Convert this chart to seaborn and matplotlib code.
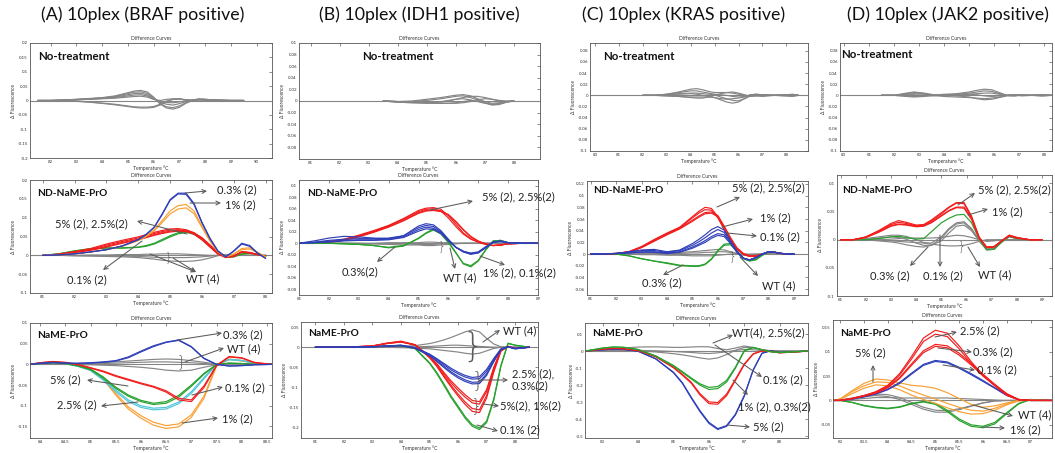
import matplotlib
matplotlib.use('Agg')
import matplotlib.pyplot as plt
from matplotlib.patches import FancyArrowPatch
from matplotlib.ticker import FuncFormatter
import seaborn as sns

# ---------------- data ----------------
# (A) BRAF, no treatment
A1_T = [81.5, 82, 82.5, 83, 83.5, 84, 84.5, 85, 85.25, 85.5, 85.75, 86, 86.25, 86.5, 86.75, 87, 87.25, 87.5, 87.75, 88, 88.5, 89, 89.5]
A1_nt1 = [0, 0, 0.002, 0.004, 0.007, 0.010, 0.016, 0.027, 0.033, 0.035, 0.030, 0.012, -0.012, -0.026, -0.030, -0.024, -0.010, 0.000, 0.004, 0.004, 0.001, 0, 0]
A1_nt2 = [0, 0, 0.002, 0.004, 0.006, 0.009, 0.014, 0.024, 0.029, 0.030, 0.025, 0.010, -0.010, -0.022, -0.025, -0.019, -0.008, 0.000, 0.004, 0.003, 0.001, 0, 0]
A1_nt3 = [0, 0, 0.001, 0.003, 0.005, 0.008, 0.012, 0.020, 0.024, 0.025, 0.020, 0.007, -0.006, -0.013, -0.016, -0.011, -0.004, 0.001, 0.005, 0.004, 0.001, 0, 0]
A1_nt4 = [0, 0, 0.001, 0.003, 0.005, 0.007, 0.010, 0.016, 0.019, 0.020, 0.016, 0.005, -0.003, -0.007, -0.008, -0.005, -0.001, 0.002, 0.005, 0.004, 0.001, 0, 0]
A1_nt5 = [0, 0, 0.001, 0.002, 0.004, 0.006, 0.008, 0.012, 0.014, 0.015, 0.012, 0.004, 0.000, 0.004, 0.006, 0.005, 0.002, 0.001, 0.003, 0.002, 0.001, 0, 0]
A1_nt6 = [0, 0, -0.001, -0.003, -0.006, -0.010, -0.015, -0.021, -0.024, -0.026, -0.026, -0.024, -0.016, -0.004, 0.004, 0.006, 0.003, 0.000, 0.002, 0.001, 0, 0, 0]
A1_nt7 = [0, 0, -0.001, -0.002, -0.005, -0.009, -0.013, -0.019, -0.022, -0.023, -0.023, -0.021, -0.013, -0.002, 0.004, 0.005, 0.002, 0.000, 0.002, 0.001, 0, 0, 0]

# (A) BRAF, ND-NaME-PrO
A2_T = [81, 81.5, 82, 82.5, 83, 83.5, 84, 84.25, 84.5, 84.75, 85, 85.25, 85.5, 85.75, 86, 86.25, 86.5, 86.75, 87, 87.25, 87.5, 87.75, 88]
A2_b1 = [0, 0.001, 0.004, 0.009, 0.015, 0.025, 0.042, 0.056, 0.075, 0.110, 0.148, 0.165, 0.165, 0.138, 0.088, 0.046, 0.012, -0.004, 0.012, 0.032, 0.026, 0.006, -0.008]
A2_b2 = [0, 0.001, 0.004, 0.009, 0.015, 0.025, 0.041, 0.055, 0.074, 0.108, 0.146, 0.163, 0.162, 0.135, 0.086, 0.044, 0.011, -0.004, 0.011, 0.030, 0.024, 0.005, -0.008]
A2_o1 = [0, 0.001, 0.004, 0.009, 0.015, 0.025, 0.040, 0.052, 0.068, 0.092, 0.118, 0.132, 0.135, 0.118, 0.078, 0.040, 0.010, -0.004, 0.004, 0.018, 0.020, 0.008, -0.004]
A2_o2 = [0, 0.001, 0.004, 0.009, 0.015, 0.024, 0.039, 0.050, 0.065, 0.087, 0.110, 0.123, 0.126, 0.111, 0.074, 0.038, 0.009, -0.004, 0.003, 0.015, 0.017, 0.007, -0.004]
A2_r1 = [0, 0.003, 0.010, 0.018, 0.030, 0.040, 0.049, 0.055, 0.061, 0.066, 0.070, 0.071, 0.068, 0.060, 0.045, 0.026, 0.006, -0.006, -0.002, 0.009, 0.007, 0.002, -0.002]
A2_r2 = [0, 0.003, 0.009, 0.016, 0.027, 0.037, 0.046, 0.052, 0.058, 0.063, 0.067, 0.068, 0.065, 0.056, 0.041, 0.022, 0.003, -0.006, -0.003, 0.008, 0.006, 0.002, -0.002]
A2_r3 = [0, 0.002, 0.008, 0.014, 0.024, 0.034, 0.043, 0.049, 0.055, 0.060, 0.064, 0.066, 0.066, 0.060, 0.047, 0.028, 0.008, -0.005, -0.002, 0.010, 0.008, 0.002, -0.002]
A2_r4 = [0, 0.002, 0.007, 0.013, 0.022, 0.032, 0.041, 0.047, 0.053, 0.058, 0.062, 0.064, 0.063, 0.057, 0.044, 0.025, 0.006, -0.005, -0.002, 0.009, 0.007, 0.002, -0.002]
A2_g1 = [0, 0.004, 0.012, 0.018, 0.020, 0.020, 0.022, 0.026, 0.032, 0.042, 0.052, 0.060, 0.064, 0.058, 0.044, 0.025, 0.006, -0.004, -0.004, 0.004, 0.006, 0.002, -0.002]
A2_g2 = [0, 0.004, 0.011, 0.017, 0.019, 0.019, 0.021, 0.024, 0.030, 0.039, 0.049, 0.057, 0.061, 0.056, 0.042, 0.023, 0.005, -0.004, -0.004, 0.003, 0.005, 0.002, -0.002]
A2_w1 = [0, 0, -0.001, -0.002, -0.003, -0.004, -0.006, -0.008, -0.010, -0.013, -0.015, -0.016, -0.016, -0.015, -0.012, -0.007, -0.001, 0.002, 0.001, 0, 0, 0, 0]
A2_w2 = [0, 0, -0.001, -0.001, -0.002, -0.002, -0.003, -0.004, -0.005, -0.006, -0.006, -0.006, -0.006, -0.005, -0.004, -0.002, 0, 0.001, 0.001, 0, 0, 0, 0]
A2_w3 = [0, 0, 0, 0.001, 0.001, 0.002, 0.002, 0.003, 0.003, 0.004, 0.004, 0.004, 0.003, 0.002, 0.001, 0, 0, 0, 0, 0, 0, 0, 0]

# (A) BRAF, NaME-PrO
A3_T = [83.8, 84, 84.25, 84.5, 84.75, 85, 85.25, 85.5, 85.75, 86, 86.25, 86.5, 86.75, 87, 87.25, 87.5, 87.75, 88, 88.25, 88.6]
A3_b1 = [0, 0.003, 0.005, 0.003, 0.003, 0.004, 0.006, 0.009, 0.018, 0.032, 0.045, 0.054, 0.059, 0.043, 0.015, 0.000, -0.004, -0.003, -0.001, 0]
A3_b2 = [0, 0.002, 0.004, 0.003, 0.002, 0.003, 0.005, 0.008, 0.016, 0.030, 0.043, 0.053, 0.058, 0.042, 0.014, 0.000, -0.004, -0.003, -0.001, 0]
A3_r1 = [0, 0.004, 0.007, 0.005, 0.000, -0.008, -0.016, -0.027, -0.036, -0.045, -0.053, -0.064, -0.082, -0.086, -0.052, -0.002, 0.019, 0.016, 0.005, 0]
A3_r2 = [0, 0.004, 0.006, 0.004, -0.001, -0.009, -0.018, -0.029, -0.038, -0.047, -0.055, -0.067, -0.086, -0.090, -0.056, -0.004, 0.018, 0.015, 0.004, 0]
A3_g1 = [0, 0.002, 0.004, 0.002, -0.003, -0.011, -0.030, -0.055, -0.074, -0.087, -0.094, -0.090, -0.075, -0.050, -0.022, 0.000, 0.003, 0.002, 0, 0]
A3_g2 = [0, 0.002, 0.004, 0.002, -0.004, -0.013, -0.033, -0.058, -0.077, -0.090, -0.097, -0.094, -0.079, -0.053, -0.024, -0.001, 0.003, 0.002, 0, 0]
A3_c1 = [0, 0.002, 0.004, 0.002, -0.004, -0.013, -0.035, -0.062, -0.086, -0.100, -0.106, -0.104, -0.091, -0.066, -0.032, 0.000, 0.012, 0.010, 0.003, 0]
A3_c2 = [0, 0.002, 0.004, 0.002, -0.005, -0.015, -0.038, -0.066, -0.090, -0.104, -0.110, -0.108, -0.095, -0.070, -0.035, -0.001, 0.011, 0.009, 0.003, 0]
A3_o1 = [0, 0.003, 0.006, 0.004, -0.002, -0.011, -0.033, -0.070, -0.103, -0.124, -0.140, -0.148, -0.144, -0.122, -0.077, -0.002, 0.013, 0.009, 0.003, 0]
A3_o2 = [0, 0.003, 0.006, 0.004, -0.003, -0.013, -0.036, -0.074, -0.108, -0.130, -0.147, -0.155, -0.151, -0.128, -0.082, -0.004, 0.012, 0.008, 0.003, 0]
A3_w1 = [0, 0, 0, 0, 0.001, 0.002, 0.004, 0.006, 0.008, 0.010, 0.012, 0.013, 0.012, 0.009, 0.005, 0.001, 0, 0, 0, 0]
A3_w2 = [0, 0, 0, 0, 0.001, 0.001, 0.002, 0.003, 0.004, 0.005, 0.006, 0.006, 0.005, 0.004, 0.002, 0, 0, 0, 0, 0]
A3_w3 = [0, 0, 0, 0, -0.001, -0.001, -0.002, -0.003, -0.005, -0.007, -0.010, -0.014, -0.016, -0.014, -0.007, -0.001, 0.001, 0, 0, 0]

# (B) IDH1, no treatment
B1_T = [83.5, 84, 84.5, 85, 85.5, 85.75, 86, 86.25, 86.5, 86.75, 87, 87.25, 87.5, 87.75, 88]
B1_n1 = [0, -0.001, 0.000, 0.003, 0.006, 0.008, 0.010, 0.011, 0.009, 0.004, -0.001, -0.004, -0.003, -0.001, 0]
B1_n2 = [0, -0.001, -0.001, 0.001, 0.004, 0.006, 0.008, 0.009, 0.006, 0.002, -0.003, -0.006, -0.005, -0.002, 0]
B1_n3 = [0, -0.002, -0.003, -0.003, -0.002, 0.000, 0.003, 0.006, 0.008, 0.008, 0.006, 0.003, 0.000, -0.001, 0]
B1_n4 = [0, -0.002, -0.003, -0.004, -0.004, -0.004, -0.004, -0.003, -0.001, 0.002, 0.004, 0.003, 0.001, 0, 0]
B1_n5 = [0, -0.001, -0.002, -0.003, -0.004, -0.004, -0.003, -0.001, 0.001, 0.000, -0.003, -0.007, -0.006, -0.002, 0]
B1_n6 = [0, -0.001, -0.002, -0.002, -0.001, 0.001, 0.003, 0.004, 0.002, -0.001, -0.004, -0.006, -0.004, -0.001, 0]

# (B) IDH1, ND-NaME-PrO
B2_T = [81, 81.5, 82, 82.5, 83, 83.5, 84, 84.5, 85, 85.25, 85.5, 85.75, 86, 86.25, 86.5, 86.75, 87, 87.25, 87.5, 87.75, 88, 88.5, 89]
B2_r1 = [0, 0.001, 0.003, 0.007, 0.014, 0.022, 0.031, 0.043, 0.057, 0.061, 0.062, 0.059, 0.048, 0.033, 0.018, 0.008, 0.002, -0.002, -0.004, -0.003, -0.001, 0, 0]
B2_r2 = [0, 0.001, 0.003, 0.006, 0.013, 0.021, 0.030, 0.042, 0.055, 0.059, 0.060, 0.056, 0.044, 0.029, 0.016, 0.007, 0.002, -0.002, -0.004, -0.003, -0.001, 0, 0]
B2_r3 = [0, 0.001, 0.002, 0.006, 0.012, 0.020, 0.029, 0.040, 0.053, 0.057, 0.058, 0.056, 0.050, 0.038, 0.024, 0.012, 0.004, -0.001, -0.004, -0.003, -0.001, 0, 0]
B2_r4 = [0, 0.001, 0.002, 0.005, 0.011, 0.019, 0.028, 0.039, 0.052, 0.056, 0.057, 0.055, 0.049, 0.037, 0.023, 0.011, 0.003, -0.001, -0.004, -0.003, -0.001, 0, 0]
B2_b1 = [0, 0.004, 0.009, 0.012, 0.011, 0.009, 0.008, 0.013, 0.030, 0.034, 0.032, 0.022, 0.007, -0.007, -0.015, -0.019, -0.016, -0.007, 0.002, 0.004, 0.001, 0, 0]
B2_b2 = [0, 0.002, 0.005, 0.007, 0.008, 0.008, 0.009, 0.013, 0.027, 0.031, 0.029, 0.020, 0.006, -0.007, -0.015, -0.019, -0.017, -0.008, 0.002, 0.004, 0.001, 0, 0]
B2_b3 = [0, 0.001, 0.003, 0.005, 0.006, 0.006, 0.007, 0.011, 0.024, 0.028, 0.026, 0.018, 0.005, -0.007, -0.014, -0.018, -0.016, -0.007, 0.002, 0.003, 0.001, 0, 0]
B2_b4 = [0, 0.001, 0.002, 0.004, 0.005, 0.005, 0.006, 0.010, 0.021, 0.025, 0.024, 0.017, 0.004, -0.007, -0.014, -0.017, -0.015, -0.006, 0.002, 0.003, 0.001, 0, 0]
B2_g1 = [0, 0, 0, -0.001, -0.002, -0.004, -0.008, -0.005, 0.009, 0.018, 0.025, 0.018, 0.003, -0.016, -0.036, -0.041, -0.031, -0.012, 0.004, 0.005, 0.001, 0, 0]
B2_g2 = [0, 0, 0, -0.001, -0.002, -0.004, -0.007, -0.004, 0.008, 0.017, 0.023, 0.016, 0.001, -0.017, -0.035, -0.039, -0.030, -0.011, 0.004, 0.005, 0.001, 0, 0]
B2_w1 = [0, 0, 0, 0, -0.001, -0.001, -0.002, -0.003, -0.003, -0.004, -0.004, -0.003, -0.002, -0.001, 0, 0, 0, 0, 0, 0, 0, 0, 0]
B2_w2 = [0, 0, 0, 0, 0, -0.001, -0.001, -0.001, -0.002, -0.002, -0.002, -0.001, -0.001, 0, 0, 0, 0, 0, 0, 0, 0, 0, 0]
B2_w3 = [0, 0, 0, 0, 0, 0, 0.001, 0.001, 0.001, 0.002, 0.002, 0.001, 0.001, 0, 0, 0, 0, 0, 0, 0, 0, 0, 0]

# (B) IDH1, NaME-PrO
B3_T = [81, 82, 83, 83.5, 84, 84.5, 85, 85.25, 85.5, 85.75, 86, 86.25, 86.5, 86.75, 87, 87.25, 87.5, 87.75, 88, 88.5]
B3_r1 = [0, 0, 0.003, 0.009, 0.013, 0.006, -0.022, -0.040, -0.062, -0.083, -0.101, -0.118, -0.132, -0.135, -0.105, -0.050, -0.006, 0.002, -0.003, 0]
B3_r2 = [0, 0, 0.003, 0.009, 0.013, 0.005, -0.024, -0.043, -0.066, -0.088, -0.107, -0.124, -0.138, -0.141, -0.110, -0.054, -0.008, 0.002, -0.003, 0]
B3_r3 = [0, 0, 0.003, 0.010, 0.014, 0.006, -0.025, -0.045, -0.070, -0.094, -0.116, -0.136, -0.152, -0.155, -0.120, -0.058, -0.009, 0.002, -0.003, 0]
B3_r4 = [0, 0, 0.003, 0.010, 0.015, 0.006, -0.026, -0.047, -0.073, -0.098, -0.121, -0.142, -0.159, -0.162, -0.126, -0.062, -0.010, 0.002, -0.003, 0]
B3_b1 = [0, 0, 0.001, 0.003, 0.005, -0.001, -0.017, -0.028, -0.040, -0.052, -0.062, -0.070, -0.075, -0.073, -0.055, -0.028, -0.004, 0.001, -0.003, 0]
B3_b2 = [0, 0, 0.001, 0.003, 0.005, -0.002, -0.018, -0.030, -0.043, -0.056, -0.066, -0.074, -0.079, -0.078, -0.060, -0.031, -0.005, 0.001, -0.003, 0]
B3_b3 = [0, 0, 0.001, 0.003, 0.004, -0.002, -0.020, -0.033, -0.047, -0.061, -0.072, -0.081, -0.087, -0.086, -0.066, -0.034, -0.006, 0.001, -0.004, 0]
B3_b4 = [0, 0, 0.001, 0.002, 0.004, -0.003, -0.021, -0.035, -0.050, -0.064, -0.076, -0.085, -0.091, -0.090, -0.070, -0.036, -0.006, 0.001, -0.004, 0]
B3_g1 = [0, 0, 0.001, 0.003, 0.004, -0.003, -0.038, -0.062, -0.090, -0.120, -0.146, -0.172, -0.192, -0.200, -0.183, -0.128, -0.045, 0.010, 0.005, 0]
B3_g2 = [0, 0, 0.001, 0.003, 0.004, -0.004, -0.040, -0.065, -0.094, -0.124, -0.150, -0.176, -0.196, -0.204, -0.187, -0.132, -0.048, 0.009, 0.005, 0]
B3_w1 = [0, 0, 0, 0, 0.002, 0.004, 0.009, 0.013, 0.018, 0.024, 0.031, 0.038, 0.043, 0.038, 0.022, 0.008, 0.001, 0, 0, 0]
B3_w2 = [0, 0, 0, 0, -0.001, -0.002, -0.004, -0.006, -0.008, -0.010, -0.012, -0.015, -0.017, -0.015, -0.009, -0.003, 0, 0, 0, 0]
B3_w3 = [0, 0, 0, 0, 0, 0.001, 0.002, 0.003, 0.004, 0.005, 0.005, 0.004, 0.003, 0.002, 0.001, 0, 0, 0, 0, 0]

# (C) KRAS, no treatment
C1_T = [82, 82.5, 83, 83.5, 84, 84.25, 84.5, 84.75, 85, 85.25, 85.5, 85.75, 86, 86.25, 86.5, 86.75, 87, 87.5, 88, 88.25, 88.5]
C1_n1 = [0, 0, 0.002, 0.006, 0.011, 0.012, 0.010, 0.007, 0.005, 0.005, 0.005, 0.004, 0.002, 0, -0.001, 0.001, 0.001, 0, 0.001, 0.001, 0]
C1_n2 = [0, 0, 0.002, 0.005, 0.008, 0.008, 0.006, 0.004, 0.002, 0.001, 0.000, -0.002, -0.003, -0.002, 0.001, 0.002, 0, 0, -0.001, -0.001, 0]
C1_n3 = [0, 0, 0.001, 0.003, 0.004, 0.004, 0.003, 0.002, 0.001, -0.003, -0.006, -0.009, -0.010, -0.006, -0.001, -0.001, -0.002, 0, 0.001, 0.002, 0]
C1_n4 = [0, 0, -0.001, -0.002, -0.003, -0.003, -0.003, -0.003, -0.004, -0.008, -0.012, -0.014, -0.012, -0.006, 0.000, 0.001, 0.001, 0, -0.001, -0.002, 0]
C1_n5 = [0, 0, -0.001, -0.002, -0.004, -0.005, -0.005, -0.003, 0.000, 0.003, 0.005, 0.006, 0.004, 0.001, -0.002, -0.001, 0, 0, 0.001, 0.001, 0]
C1_n6 = [0, 0, 0.001, 0.002, 0.003, 0.002, 0.000, -0.002, -0.004, -0.006, -0.007, -0.006, -0.005, -0.003, 0.001, 0.002, 0.001, 0, 0, 0.001, 0]

# (C) KRAS, ND-NaME-PrO
C2_T = [81, 82, 82.5, 83, 83.5, 84, 84.5, 85, 85.25, 85.5, 85.75, 86, 86.25, 86.5, 86.75, 87, 87.25, 87.5, 87.75, 88, 88.25, 88.5, 89]
C2_r1 = [0, 0.001, 0.004, 0.013, 0.025, 0.036, 0.046, 0.064, 0.073, 0.080, 0.078, 0.064, 0.043, 0.024, 0.009, 0.000, -0.004, -0.004, 0.000, 0.004, 0.003, 0.001, 0]
C2_r2 = [0, 0.001, 0.004, 0.012, 0.024, 0.035, 0.045, 0.062, 0.070, 0.076, 0.075, 0.062, 0.042, 0.023, 0.008, 0.000, -0.004, -0.004, 0.000, 0.004, 0.003, 0.001, 0]
C2_r3 = [0, 0.001, 0.004, 0.012, 0.023, 0.034, 0.044, 0.058, 0.065, 0.071, 0.072, 0.066, 0.048, 0.028, 0.011, 0.001, -0.003, -0.003, 0.000, 0.004, 0.003, 0.001, 0]
C2_r4 = [0, 0.001, 0.003, 0.011, 0.022, 0.033, 0.043, 0.056, 0.063, 0.069, 0.070, 0.064, 0.046, 0.027, 0.010, 0.001, -0.003, -0.003, 0.000, 0.004, 0.003, 0.001, 0]
C2_b1 = [0, 0.001, 0.004, 0.007, 0.008, 0.004, 0.007, 0.018, 0.025, 0.033, 0.042, 0.047, 0.041, 0.023, 0.005, -0.007, -0.010, -0.006, 0.000, 0.004, 0.003, 0.001, 0]
C2_b2 = [0, 0.001, 0.003, 0.006, 0.006, 0.003, 0.006, 0.015, 0.021, 0.028, 0.036, 0.042, 0.037, 0.021, 0.004, -0.007, -0.010, -0.006, 0.000, 0.004, 0.003, 0.001, 0]
C2_b3 = [0, 0.001, 0.002, 0.004, 0.004, 0.002, 0.004, 0.012, 0.017, 0.023, 0.030, 0.035, 0.033, 0.020, 0.004, -0.007, -0.010, -0.006, 0.000, 0.004, 0.003, 0.001, 0]
C2_b4 = [0, 0.001, 0.002, 0.003, 0.003, 0.001, 0.003, 0.010, 0.015, 0.020, 0.027, 0.032, 0.030, 0.018, 0.003, -0.007, -0.010, -0.006, 0.000, 0.004, 0.003, 0.001, 0]
C2_g1 = [0, 0, -0.003, -0.008, -0.012, -0.015, -0.019, -0.020, -0.020, -0.017, -0.008, 0.006, 0.017, 0.018, 0.006, -0.007, -0.011, -0.009, -0.002, 0.004, 0.003, 0.001, 0]
C2_g2 = [0, 0, -0.003, -0.008, -0.012, -0.016, -0.020, -0.021, -0.021, -0.018, -0.009, 0.005, 0.015, 0.016, 0.005, -0.008, -0.012, -0.010, -0.002, 0.004, 0.003, 0.001, 0]
C2_w1 = [0, 0, 0, 0.001, 0.001, 0.002, 0.003, 0.004, 0.005, 0.006, 0.007, 0.008, 0.007, 0.004, 0.001, -0.002, -0.003, -0.002, 0, 0.001, 0, 0, 0]
C2_w2 = [0, 0, 0, -0.001, -0.001, -0.002, -0.002, -0.003, -0.003, -0.003, -0.003, -0.002, -0.001, 0, 0, -0.001, -0.001, 0, 0, 0, 0, 0, 0]
C2_w3 = [0, 0, 0, 0, 0.001, 0.001, 0.001, 0.002, 0.002, 0.003, 0.003, 0.004, 0.004, 0.003, 0.001, 0, 0, 0, 0, 0, 0, 0, 0]

# (C) KRAS, NaME-PrO
C3_T = [82.5, 83, 83.3, 83.6, 84, 84.5, 85, 85.25, 85.5, 85.75, 86, 86.25, 86.5, 86.75, 87, 87.25, 87.5, 87.75, 88, 88.5, 88.8]
C3_g1 = [0, 0.018, 0.024, 0.022, 0.010, -0.028, -0.084, -0.120, -0.157, -0.192, -0.213, -0.208, -0.172, -0.094, 0.004, 0.022, 0.008, -0.004, -0.008, -0.003, 0]
C3_g2 = [0, 0.018, 0.024, 0.022, 0.009, -0.030, -0.088, -0.125, -0.163, -0.200, -0.225, -0.220, -0.182, -0.100, 0.000, 0.020, 0.008, -0.004, -0.008, -0.003, 0]
C3_r1 = [0, 0.012, 0.016, 0.014, 0.004, -0.032, -0.094, -0.136, -0.182, -0.250, -0.298, -0.302, -0.252, -0.165, -0.075, -0.016, 0.002, -0.002, -0.010, -0.004, 0]
C3_r2 = [0, 0.012, 0.016, 0.014, 0.003, -0.034, -0.098, -0.141, -0.188, -0.258, -0.308, -0.312, -0.262, -0.172, -0.080, -0.018, 0.001, -0.002, -0.010, -0.004, 0]
C3_b1 = [0, 0.008, 0.012, 0.010, 0.000, -0.045, -0.124, -0.185, -0.270, -0.350, -0.418, -0.455, -0.437, -0.370, -0.260, -0.110, -0.012, 0.002, -0.008, -0.003, 0]
C3_b2 = [0, 0.008, 0.012, 0.010, -0.001, -0.046, -0.127, -0.189, -0.275, -0.356, -0.424, -0.460, -0.442, -0.375, -0.265, -0.113, -0.013, 0.002, -0.008, -0.003, 0]
C3_w1 = [0, 0.004, 0.010, 0.018, 0.024, 0.025, 0.022, 0.022, 0.024, 0.026, 0.025, 0.015, 0.008, 0.018, 0.030, 0.022, 0.008, 0.002, 0, 0, 0]
C3_w2 = [0, 0.002, 0.004, 0.004, 0.002, -0.005, -0.015, -0.022, -0.030, -0.040, -0.047, -0.040, -0.020, 0.005, 0.022, 0.020, 0.008, 0.002, 0, 0, 0]
C3_w3 = [0, 0.002, 0.003, 0.004, 0.004, 0.002, -0.002, -0.005, -0.008, -0.012, -0.014, -0.010, -0.004, 0.004, 0.010, 0.008, 0.003, 0.001, 0, 0, 0]

# (D) JAK2, no treatment
D1_T = [81.5, 82, 82.5, 82.8, 83.2, 83.6, 84, 84.5, 85, 85.3, 85.6, 85.9, 86.2, 86.5, 86.8, 87.1, 87.5, 87.9, 88.3]
D1_n1 = [0, 0, 0.003, 0.005, 0.003, 0.000, 0.001, 0.003, 0.006, 0.009, 0.011, 0.010, 0.005, 0.000, 0.001, -0.001, 0, 0.001, 0]
D1_n2 = [0, 0, 0.002, 0.003, 0.002, 0.000, 0.002, 0.002, 0.004, 0.006, 0.008, 0.007, 0.003, 0.000, -0.001, 0.001, 0, -0.001, 0]
D1_n3 = [0, 0, 0.001, 0.001, 0.000, -0.001, 0.000, 0.001, 0.002, 0.003, 0.004, 0.004, 0.002, 0.000, 0.001, 0.000, 0, 0.001, 0]
D1_n4 = [0, 0, -0.002, -0.003, -0.002, 0.000, -0.002, -0.003, -0.004, -0.005, -0.006, -0.005, -0.003, 0.000, 0.000, 0.001, 0, 0, 0]
D1_n5 = [0, 0, -0.001, -0.002, -0.001, 0.000, 0.001, -0.001, -0.003, -0.006, -0.008, -0.007, -0.004, -0.001, -0.001, 0.000, 0, -0.001, 0]
D1_n6 = [0, 0, 0.004, 0.006, 0.004, 0.001, -0.001, 0.000, 0.002, 0.001, -0.001, -0.002, -0.001, 0.000, 0.001, 0.000, 0, 0.001, 0]

# (D) JAK2, ND-NaME-PrO
D2_T = [81, 81.5, 82, 82.5, 83, 83.3, 83.6, 84, 84.3, 84.6, 85, 85.3, 85.6, 85.9, 86.2, 86.5, 86.8, 87.1, 87.4, 87.7, 88, 88.5, 89]
D2_r1 = [0, 0, 0.005, 0.016, 0.029, 0.034, 0.031, 0.026, 0.027, 0.035, 0.048, 0.058, 0.066, 0.066, 0.042, 0.005, -0.014, -0.013, -0.002, 0.008, 0.004, 0, 0]
D2_r2 = [0, 0, 0.005, 0.015, 0.027, 0.031, 0.029, 0.025, 0.026, 0.033, 0.046, 0.057, 0.065, 0.064, 0.040, 0.004, -0.014, -0.013, -0.002, 0.008, 0.004, 0, 0]
D2_r3 = [0, 0, 0.004, 0.014, 0.025, 0.028, 0.027, 0.024, 0.025, 0.031, 0.043, 0.052, 0.058, 0.058, 0.038, 0.004, -0.013, -0.012, -0.002, 0.007, 0.003, 0, 0]
D2_r4 = [0, 0, 0.004, 0.013, 0.024, 0.027, 0.026, 0.023, 0.024, 0.030, 0.042, 0.051, 0.057, 0.056, 0.036, 0.003, -0.013, -0.012, -0.002, 0.007, 0.003, 0, 0]
D2_g1 = [0, 0, 0, 0.002, 0.005, 0.006, 0.004, 0.001, 0.002, 0.014, 0.030, 0.038, 0.044, 0.045, 0.030, 0.002, -0.018, -0.017, -0.004, 0.006, 0.002, 0, 0]
D2_w1 = [0, 0, 0.002, 0.005, 0.008, 0.008, 0.006, 0.000, -0.005, -0.006, 0.005, 0.020, 0.030, 0.032, 0.020, 0.000, -0.016, -0.016, -0.004, 0.006, 0.002, 0, 0]
D2_w2 = [0, 0, 0.001, 0.003, 0.005, 0.004, 0.001, -0.006, -0.010, -0.010, 0.002, 0.018, 0.028, 0.030, 0.018, -0.002, -0.018, -0.017, -0.004, 0.006, 0.002, 0, 0]
D2_w3 = [0, 0, 0.000, -0.002, -0.004, -0.006, -0.009, -0.012, -0.013, -0.010, -0.002, 0.012, 0.024, 0.026, 0.016, -0.002, -0.017, -0.016, -0.004, 0.005, 0.002, 0, 0]
D2_w4 = [0, 0, 0, -0.001, -0.002, -0.003, -0.004, -0.005, -0.006, -0.008, -0.010, -0.011, -0.011, -0.010, -0.007, -0.003, 0, 0, 0, 0, 0, 0, 0]
D2_w5 = [0, 0, 0, 0, 0.001, 0.002, 0.003, 0.003, 0.003, 0.003, 0.004, 0.006, 0.008, 0.007, 0.004, 0.000, -0.003, -0.002, 0, 0, 0, 0, 0]

# (D) JAK2, NaME-PrO
D3_T = [82.85, 83, 83.25, 83.5, 83.75, 84, 84.25, 84.5, 84.75, 85, 85.25, 85.5, 85.75, 86, 86.25, 86.5, 86.75, 87, 87.25, 87.45]
D3_r1 = [0, 0, 0.004, 0.010, 0.018, 0.031, 0.055, 0.090, 0.128, 0.144, 0.138, 0.112, 0.080, 0.052, 0.031, 0.011, 0.001, 0, 0, 0]
D3_r2 = [0, 0, 0.004, 0.010, 0.017, 0.029, 0.052, 0.085, 0.121, 0.136, 0.131, 0.106, 0.076, 0.050, 0.030, 0.011, 0.001, 0, 0, 0]
D3_r3 = [0, 0, 0.004, 0.009, 0.016, 0.027, 0.047, 0.075, 0.102, 0.115, 0.112, 0.097, 0.076, 0.054, 0.033, 0.014, 0.002, 0, 0, 0]
D3_r4 = [0, 0, 0.004, 0.009, 0.015, 0.026, 0.045, 0.072, 0.098, 0.111, 0.108, 0.093, 0.073, 0.051, 0.031, 0.013, 0.002, 0, 0, 0]
D3_b1 = [0, 0, 0.003, 0.008, 0.014, 0.023, 0.037, 0.056, 0.074, 0.082, 0.079, 0.068, 0.055, 0.041, 0.026, 0.011, 0.002, 0, 0, 0]
D3_b2 = [0, 0, 0.003, 0.007, 0.013, 0.022, 0.035, 0.054, 0.072, 0.080, 0.077, 0.066, 0.053, 0.039, 0.025, 0.010, 0.002, 0, 0, 0]
D3_o1 = [0, 0.003, 0.020, 0.035, 0.044, 0.042, 0.036, 0.031, 0.029, 0.025, 0.016, 0.004, -0.008, -0.014, -0.011, -0.005, 0.000, 0.001, 0, 0]
D3_o2 = [0, 0.003, 0.018, 0.030, 0.038, 0.037, 0.030, 0.020, 0.011, 0.003, -0.006, -0.014, -0.020, -0.022, -0.016, -0.007, 0.000, 0.001, 0, 0]
D3_o3 = [0, 0.002, 0.014, 0.025, 0.032, 0.030, 0.022, 0.011, 0.002, -0.006, -0.015, -0.023, -0.028, -0.027, -0.020, -0.009, -0.001, 0.001, 0, 0]
D3_g1 = [0, 0, -0.004, -0.010, -0.014, -0.016, -0.013, -0.006, -0.002, -0.006, -0.020, -0.038, -0.050, -0.053, -0.045, -0.025, -0.006, 0.002, 0.001, 0]
D3_g2 = [0, 0, -0.004, -0.011, -0.015, -0.017, -0.014, -0.007, -0.003, -0.008, -0.023, -0.041, -0.053, -0.056, -0.048, -0.027, -0.007, 0.002, 0.001, 0]
D3_w1 = [0, 0.001, 0.005, 0.010, 0.013, 0.012, 0.006, -0.004, -0.014, -0.020, -0.021, -0.017, -0.011, -0.005, -0.001, 0, 0, 0, 0, 0]
D3_w2 = [0, 0.001, 0.004, 0.008, 0.010, 0.008, 0.002, -0.008, -0.018, -0.024, -0.024, -0.019, -0.012, -0.005, -0.001, 0, 0, 0, 0, 0]
D3_w3 = [0, 0, 0.002, 0.004, 0.006, 0.006, 0.005, 0.005, 0.005, 0.005, 0.005, 0.004, 0.003, 0.002, 0.001, 0, 0, 0, 0, 0]

col_titles = ['(A) 10plex (BRAF positive)', '(B) 10plex (IDH1 positive)',
              '(C) 10plex (KRAS positive)', '(D) 10plex (JAK2 positive)']

# ---------------- styling ----------------
RED, BLUE, GREEN = '#f21d1d', '#2f3fb8', '#27a02d'
ORANGE, CYAN, GRAY = '#f9a033', '#4fc6d8', '#858585'
ARROW = '#5a5a5a'

sns.set_theme(style='white')
plt.rcParams['font.family'] = ['Lato', 'DejaVu Sans']

W, H = 1055, 453
fig = plt.figure(figsize=(W / 100, H / 100), dpi=100)


def fp(x, y):
    # image pixel -> figure fraction
    return (x / W, 1 - y / H)


def panel(box, T, curves, xlim, ylim, xticks, yticks):
    l, t, r, b = box
    ax = fig.add_axes([l / W, 1 - b / H, (r - l) / W, (b - t) / H])
    ax.axhline(0, color=GRAY, lw=0.8, zorder=1)
    for y, c in curves:
        sns.lineplot(x=T, y=y, color=c, lw=0.85, ax=ax, legend=False)
    ax.set_xlim(*xlim)
    ax.set_ylim(*ylim)
    ax.set_xticks(xticks)
    ax.set_yticks(yticks)
    fmt = FuncFormatter(lambda v, p: '%g' % round(v, 3))
    ax.xaxis.set_major_formatter(fmt)
    ax.yaxis.set_major_formatter(fmt)
    ax.tick_params(labelsize=3.2, direction='in', length=2, width=0.4, pad=1.5,
                   top=True, right=True, colors='#333333')
    for s in ax.spines.values():
        s.set_linewidth(0.6)
        s.set_color('#555555')
    ax.set_title('Difference Curves', fontsize=3.6, pad=2, color='#333333')
    ax.set_xlabel('Temperature °C', fontsize=3.6, labelpad=1, color='#333333')
    ax.set_ylabel('Δ Fluorescence', fontsize=3.6, labelpad=1, color='#333333')
    return ax


def label(text, x, y, size=7.3):
    fig.text(*fp(x, y), text, fontsize=size, fontweight='bold', ha='left', va='center', color='#111111')


def note(text, x, y, tail=None, head=None, size=8):
    if text:
        fig.text(*fp(x, y), text, fontsize=size, ha='left', va='center', color='#222222',
                 linespacing=1.1)
    if tail is not None:
        fig.add_artist(FancyArrowPatch(fp(*tail), fp(*head), transform=fig.transFigure,
                                       arrowstyle='->', mutation_scale=7, lw=0.75,
                                       color=ARROW, shrinkA=0, shrinkB=0))


def brace(x, y, size=9):
    fig.text(*fp(x, y), '}', fontsize=size, ha='center', va='center', color=ARROW,
             family='DejaVu Sans', fontweight='light')


# ---------------- row 1: no treatment ----------------
panel((30, 43, 272, 158), A1_T,
      [(c, GRAY) for c in [A1_nt1, A1_nt2, A1_nt3, A1_nt4, A1_nt5, A1_nt6, A1_nt7]],
      (81.2, 90.6), (-0.2, 0.2), list(range(82, 91)),
      [-0.2, -0.15, -0.1, -0.05, 0, 0.05, 0.1, 0.15, 0.2])
panel((299, 43, 540, 159), B1_T,
      [(c, GRAY) for c in [B1_n1, B1_n2, B1_n3, B1_n4, B1_n5, B1_n6]],
      (80.6, 88.9), (-0.1, 0.1), list(range(81, 89)),
      [-0.08, -0.06, -0.04, -0.02, 0, 0.02, 0.04, 0.06, 0.08, 0.1])
panel((590, 43, 808, 151), C1_T,
      [(c, GRAY) for c in [C1_n1, C1_n2, C1_n3, C1_n4, C1_n5, C1_n6]],
      (79.8, 88.9), (-0.1, 0.094), list(range(80, 89)),
      [-0.1, -0.08, -0.06, -0.04, -0.02, 0, 0.02, 0.04, 0.06, 0.08])
panel((840, 43, 1052, 151), D1_T,
      [(c, GRAY) for c in [D1_n1, D1_n2, D1_n3, D1_n4, D1_n5, D1_n6]],
      (79.85, 88.3), (-0.1, 0.094), list(range(80, 89)),
      [-0.1, -0.08, -0.06, -0.04, -0.02, 0, 0.02, 0.04, 0.06, 0.08])

# ---------------- row 2: ND-NaME-PrO ----------------
panel((30, 180, 272, 293), A2_T,
      [(A2_w1, GRAY), (A2_w2, GRAY), (A2_w3, GRAY),
       (A2_g1, GREEN), (A2_g2, GREEN),
       (A2_r1, RED), (A2_r2, RED), (A2_r3, RED), (A2_r4, RED),
       (A2_o1, ORANGE), (A2_o2, ORANGE), (A2_b1, BLUE), (A2_b2, BLUE)],
      (80.6, 88.2), (-0.1, 0.2), list(range(81, 89)),
      [-0.1, -0.05, 0, 0.05, 0.1, 0.15, 0.2])
panel((299, 180, 538, 295), B2_T,
      [(B2_w1, GRAY), (B2_w2, GRAY), (B2_w3, GRAY),
       (B2_r1, RED), (B2_r2, RED), (B2_r3, RED), (B2_r4, RED),
       (B2_g1, GREEN), (B2_g2, GREEN),
       (B2_b1, BLUE), (B2_b2, BLUE), (B2_b3, BLUE), (B2_b4, BLUE)],
      (81, 89), (-0.09, 0.11), list(range(81, 90)),
      [-0.08, -0.06, -0.04, -0.02, 0, 0.02, 0.04, 0.06, 0.08, 0.1])
panel((587, 181, 808, 295), C2_T,
      [(C2_w1, GRAY), (C2_w2, GRAY), (C2_w3, GRAY),
       (C2_g1, GREEN), (C2_g2, GREEN),
       (C2_r1, RED), (C2_r2, RED), (C2_r3, RED), (C2_r4, RED),
       (C2_b1, BLUE), (C2_b2, BLUE), (C2_b3, BLUE), (C2_b4, BLUE)],
      (80.85, 89.55), (-0.07, 0.125), list(range(81, 90)),
      [-0.06, -0.04, -0.02, 0, 0.02, 0.04, 0.06, 0.08, 0.1, 0.12])
panel((837, 175, 1052, 296), D2_T,
      [(D2_w4, GRAY), (D2_w5, GRAY), (D2_w1, GRAY), (D2_w2, GRAY), (D2_w3, GRAY),
       (D2_g1, GREEN),
       (D2_r1, RED), (D2_r2, RED), (D2_r3, RED), (D2_r4, RED)],
      (80.85, 89.4), (-0.1, 0.115), list(range(81, 90)),
      [-0.1, -0.05, 0, 0.05, 0.1])

# ---------------- row 3: NaME-PrO ----------------
panel((30, 323, 272, 438), A3_T,
      [(A3_w1, GRAY), (A3_w2, GRAY), (A3_w3, GRAY),
       (A3_o1, ORANGE), (A3_o2, ORANGE), (A3_c1, CYAN), (A3_c2, CYAN),
       (A3_g1, GREEN), (A3_g2, GREEN), (A3_r1, RED), (A3_r2, RED),
       (A3_b1, BLUE), (A3_b2, BLUE)],
      (83.8, 88.6), (-0.178, 0.1), [84, 84.5, 85, 85.5, 86, 86.5, 87, 87.5, 88, 88.5],
      [-0.15, -0.1, -0.05, 0, 0.05, 0.1])
panel((301, 322, 538, 438), B3_T,
      [(B3_w1, GRAY), (B3_w2, GRAY), (B3_w3, GRAY),
       (B3_g1, GREEN), (B3_g2, GREEN),
       (B3_r1, RED), (B3_r2, RED), (B3_r3, RED), (B3_r4, RED),
       (B3_b1, BLUE), (B3_b2, BLUE), (B3_b3, BLUE), (B3_b4, BLUE)],
      (80.5, 88.8), (-0.225, 0.0625), list(range(81, 89)),
      [-0.2, -0.15, -0.1, -0.05, 0, 0.05])
panel((585, 323, 808, 438), C3_T,
      [(C3_w1, GRAY), (C3_w2, GRAY), (C3_w3, GRAY),
       (C3_b1, BLUE), (C3_b2, BLUE), (C3_r1, RED), (C3_r2, RED),
       (C3_g1, GREEN), (C3_g2, GREEN)],
      (82.5, 88.8), (-0.51, 0.165), list(range(83, 89)),
      [-0.5, -0.4, -0.3, -0.2, -0.1, 0, 0.1])
panel((833, 320, 1052, 438), D3_T,
      [(D3_w1, GRAY), (D3_w2, GRAY), (D3_w3, GRAY),
       (D3_g1, GREEN), (D3_g2, GREEN),
       (D3_o1, ORANGE), (D3_o2, ORANGE), (D3_o3, ORANGE),
       (D3_b1, BLUE), (D3_b2, BLUE),
       (D3_r3, RED), (D3_r4, RED), (D3_r1, RED), (D3_r2, RED)],
      (82.85, 87.45), (-0.077, 0.165), [83, 83.5, 84, 84.5, 85, 85.5, 86, 86.5, 87],
      [-0.05, 0, 0.05, 0.1, 0.15])

# ---------------- column titles & panel labels ----------------
for title, cx in zip(col_titles, [143, 419, 684, 948]):
    fig.text(*fp(cx, 15), title, fontsize=12.8, ha='center', va='center', color='#111111')

for x in (38, 362, 603):
    label('No-treatment', x, 56, size=8.3)
label('No-treatment', 841, 55, size=8.3)
for x, y in ((37, 193), (307, 193), (593, 191), (842, 191)):
    label('ND-NaME-PrO', x, y)
for x, y in ((37, 335), (308, 333), (592, 333), (840, 333)):
    label('NaME-PrO', x, y)

# ---------------- annotations ----------------
# A2
note('0.3% (2)', 217, 190, (185, 193), (207, 191))
note('1% (2)', 225, 205, (190, 203), (221, 203))
note('5% (2), 2.5%(2)', 55, 224, (187, 234), (137, 221))
note('0.1% (2)', 67, 280, (142, 241), (103, 270))
note('WT (4)', 186, 279, (173, 258), (196, 272))
note('', 0, 0, (150, 254), (196, 272))
brace(169, 257, 9)
# A3
note('0.3% (2)', 223, 335, (177, 340), (222, 333))
note('WT (4)', 227, 349, (185, 362), (224, 348))
brace(181, 362, 11)
note('5% (2)', 50, 380, (128, 386), (87, 380))
note('2.5% (2)', 57, 405, (138, 402), (101, 406))
note('0.1% (2)', 225, 388, (192, 395), (223, 387))
note('1% (2)', 222, 419, (182, 423), (218, 418))
# B2
note('5% (2), 2.5%(2)', 482, 197, (430, 210), (473, 201))
note('0.3%(2)', 342, 272, (395, 247), (377, 262))
note('WT (4)', 443, 278, (450, 248), (455, 269))
brace(442, 246, 9)
note('1% (2), 0.1%(2)', 483, 273, (480, 256), (505, 265))
# B3
note('WT (4)', 503, 331, (483, 342), (500, 330))
brace(473, 347, 24)
note('2.5% (2),\n0.3%(2)', 512, 380, (480, 380), (508, 380))
brace(478, 380, 15)
note('5%(2), 1%(2)', 500, 406, (483, 404), (499, 406))
brace(477, 406, 13)
note('0.1% (2)', 500, 430, (477, 425), (498, 431))
# C2
note('5% (2), 2.5%(2)', 732, 188, (717, 207), (740, 197))
note('1% (2)', 760, 218, (722, 227), (753, 219))
note('0.1% (2)', 760, 237, (727, 233), (757, 236))
note('0.3% (2)', 642, 283, (683, 265), (663, 275))
note('WT (4)', 762, 286, (740, 257), (758, 276))
brace(733, 256, 9)
# C3
note('WT(4), 2.5%(2)', 732, 333, (713, 343), (733, 335))
note('0.1% (2)', 763, 380, (715, 345), (762, 377))
note('1% (2), 0.3%(2)', 738, 407, (733, 380), (748, 395))
note('5% (2)', 753, 427, (727, 425), (750, 427))
# D2
note('5% (2), 2.5%(2)', 978, 190, (958, 205), (975, 193))
note('1% (2)', 992, 212, (968, 215), (988, 209))
note('0.3% (2)', 870, 276, (928, 247), (910, 266))
note('0.1% (2)', 923, 276, (940, 235), (940, 267))
note('WT (4)', 978, 275, (968, 247), (980, 267))
brace(962, 246, 9)
# D3
note('2.5% (2)', 960, 331, (935, 337), (957, 332))
note('0.3% (2)', 973, 352, (938, 348), (972, 352))
note('0.1% (2)', 977, 370, (943, 365), (975, 370))
note('5% (2)', 855, 353, (873, 382), (873, 365))
note('WT (4)', 1018, 415, (973, 405), (1013, 416))
note('1% (2)', 1010, 430, (982, 427), (1005, 428))

fig.savefig('out.png', dpi=100, facecolor='white')
